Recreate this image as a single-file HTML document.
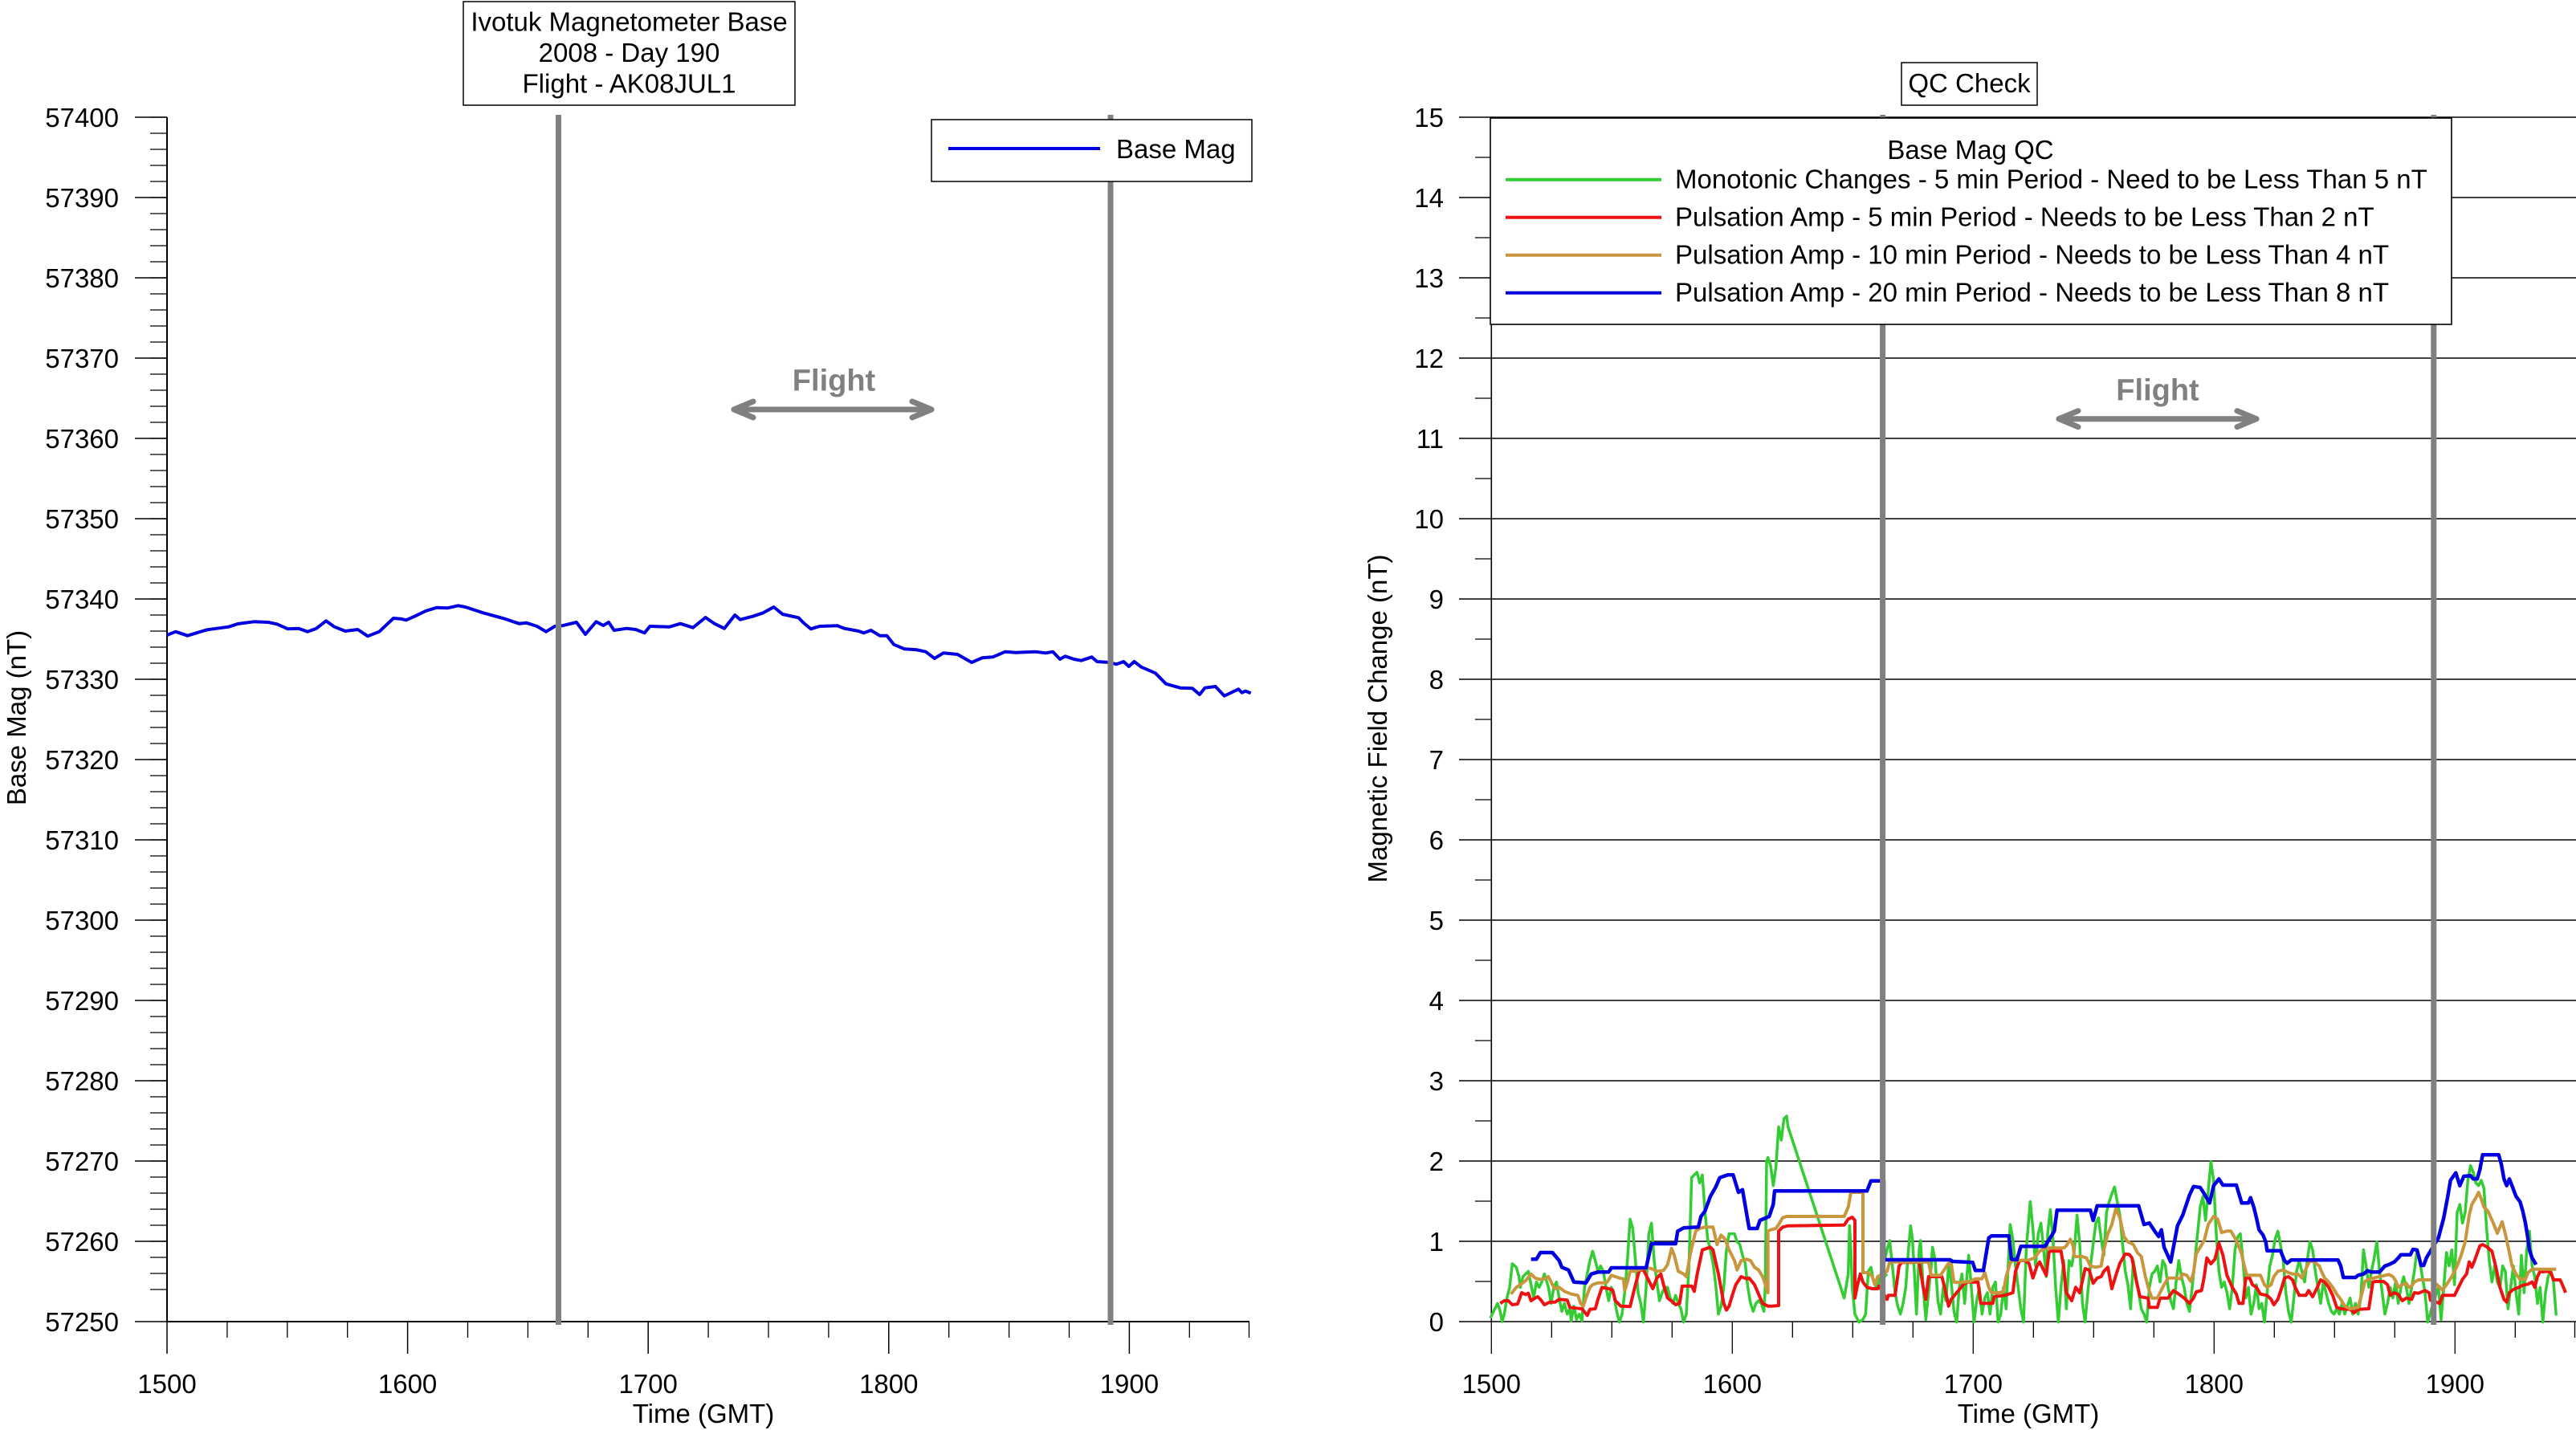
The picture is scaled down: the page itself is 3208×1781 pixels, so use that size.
<!DOCTYPE html>
<html>
<head>
<meta charset="utf-8">
<style>
html,body{margin:0;padding:0;background:#fff;overflow:hidden;}
svg{display:block;}
text{font-family:"Liberation Sans",Arial,sans-serif;}
</style>
</head>
<body>
<svg xmlns="http://www.w3.org/2000/svg" width="3208" height="1781" viewBox="0 0 3208 1781" font-size="33">
<rect width="3208" height="1781" fill="#fff"/>

<!-- ================= LEFT CHART ================= -->
<path d="M208 146V1646H1556" stroke="#000" stroke-width="2" fill="none"/>
<path d="M168 146h40M168 246h40M168 346h40M168 446h40M168 546h40M168 646h40M168 746h40M168 846h40M168 946h40M168 1046h40M168 1146h40M168 1246h40M168 1346h40M168 1446h40M168 1546h40M168 1646h40" stroke="#000" stroke-width="1.5"/>
<path d="M187 146h21m-21 20h21m-21 20h21m-21 20h21m-21 20h21m-21 20h21m-21 20h21m-21 20h21m-21 20h21m-21 20h21m-21 20h21m-21 20h21m-21 20h21m-21 20h21m-21 20h21m-21 20h21m-21 20h21m-21 20h21m-21 20h21m-21 20h21m-21 20h21m-21 20h21m-21 20h21m-21 20h21m-21 20h21m-21 20h21m-21 20h21m-21 20h21m-21 20h21m-21 20h21m-21 20h21m-21 20h21m-21 20h21m-21 20h21m-21 20h21m-21 20h21m-21 20h21m-21 20h21m-21 20h21m-21 20h21m-21 20h21m-21 20h21m-21 20h21m-21 20h21m-21 20h21m-21 20h21m-21 20h21m-21 20h21m-21 20h21m-21 20h21m-21 20h21m-21 20h21m-21 20h21m-21 20h21m-21 20h21m-21 20h21m-21 20h21m-21 20h21m-21 20h21m-21 20h21m-21 20h21m-21 20h21m-21 20h21m-21 20h21m-21 20h21m-21 20h21m-21 20h21m-21 20h21m-21 20h21m-21 20h21m-21 20h21m-21 20h21m-21 20h21m-21 20h21" stroke="#000" stroke-width="1.3"/>
<path d="M208 1646v40M507.6 1646v40M807.2 1646v40M1106.8 1646v40M1406.4 1646v40" stroke="#000" stroke-width="1.5"/>
<path d="M282.9 1646v20M357.8 1646v20M432.7 1646v20M582.5 1646v20M657.4 1646v20M732.3 1646v20M882.1 1646v20M957 1646v20M1031.9 1646v20M1181.7 1646v20M1256.6 1646v20M1331.5 1646v20M1481.3 1646v20M1555.5 1646v20" stroke="#000" stroke-width="1.3"/>

<g text-anchor="end">
<text x="148" y="158">57400</text>
<text x="148" y="258">57390</text>
<text x="148" y="358">57380</text>
<text x="148" y="458">57370</text>
<text x="148" y="558">57360</text>
<text x="148" y="658">57350</text>
<text x="148" y="758">57340</text>
<text x="148" y="858">57330</text>
<text x="148" y="958">57320</text>
<text x="148" y="1058">57310</text>
<text x="148" y="1158">57300</text>
<text x="148" y="1258">57290</text>
<text x="148" y="1358">57280</text>
<text x="148" y="1458">57270</text>
<text x="148" y="1558">57260</text>
<text x="148" y="1658">57250</text>
</g>
<g text-anchor="middle">
<text x="208" y="1735">1500</text>
<text x="507.6" y="1735">1600</text>
<text x="807.2" y="1735">1700</text>
<text x="1106.8" y="1735">1800</text>
<text x="1406.4" y="1735">1900</text>
<text x="876" y="1772">Time (GMT)</text>
<text transform="translate(32,894) rotate(-90)">Base Mag (nT)</text>
</g>

<polyline fill="none" stroke="#0000e0" stroke-width="4" stroke-linejoin="round" points="208,791 218.8,786.7 233.5,791.7 244.6,788.3 258,784.3 284.8,780.7 296,777 316,774.3 334,775 345,777.3 358.5,783.3 371.9,782.7 383,786.7 394,782.7 406,773.3 416.5,780.7 430,786 445.5,784 458,792.3 472.3,786.7 490,770 499,770.7 505.8,772.3 517,767.3 530,761 543.8,756.7 557,757.3 570.5,754.3 579.5,756 601.8,763.3 628.6,770.7 646.4,776.7 655.4,775.7 668.8,780 680,786.7 691,780 700,779.3 717.9,775 729,790 742.4,774.3 751.3,779 758,775 764.7,785 780.4,782.7 791.5,784 802.7,788.3 809.4,780 834,780.7 847.3,776.7 863,781.7 878.6,769 889.7,776.7 902,782.7 915.2,766 921.8,771.7 937.2,767.7 950.4,763.3 963.6,756 974.6,765 994.4,769.3 1001,776 1009.8,783.3 1020.8,780 1042.8,779.3 1051.6,782.7 1069.2,786 1075.8,788.3 1084.6,785 1095.6,791.7 1104.4,791.7 1113.2,802.7 1126.4,808.3 1141.8,809.3 1152.8,811.7 1163.8,820 1174.8,813.3 1192.4,815 1210,825 1223.2,819.3 1236.4,818.3 1251.8,811.7 1265,812.7 1289.2,811.7 1302.4,813.3 1311.2,811.7 1320,821 1326.6,817.3 1337.6,821 1346.4,822.7 1359.6,818.3 1366.2,824 1381.6,825 1390.4,827.3 1399.3,824 1405.8,830 1412.5,824 1421.2,830.7 1438.8,838.3 1452,851.7 1469.6,856.7 1485,857.3 1493.9,865 1500.5,856.7 1513.7,855 1524.7,866.7 1542.3,858.3 1546.7,862.7 1551,860.7 1557.7,863.3"/>

<path d="M695.5 143V1650M1383 143V1650" stroke="#808080" stroke-width="7"/>

<!-- Flight label left -->
<text x="1038.5" y="486.5" text-anchor="middle" font-weight="bold" font-size="38" fill="#808080">Flight</text>
<g stroke="#808080" stroke-width="7" fill="none" stroke-linecap="round" stroke-linejoin="round">
<path d="M914 510H1160"/>
<polyline points="938,500 914,510 938,520"/>
<polyline points="1136,500 1160,510 1136,520"/>
</g>

<!-- title box -->
<rect x="577" y="2" width="413" height="129" fill="#fff" stroke="#000" stroke-width="1.5"/>
<g text-anchor="middle">
<text x="783.5" y="38.5">Ivotuk Magnetometer Base</text>
<text x="783.5" y="77">2008 - Day 190</text>
<text x="783.5" y="115.5">Flight - AK08JUL1</text>
</g>

<!-- left legend -->
<rect x="1160" y="149" width="399" height="77" fill="#fff" stroke="#000" stroke-width="1.5"/>
<path d="M1181 185H1370" stroke="#0000e0" stroke-width="4"/>
<text x="1390" y="197">Base Mag</text>

<!-- ================= RIGHT CHART ================= -->
<path d="M1817 146H3208M1817 246H3208M1817 346H3208M1817 446H3208M1817 546H3208M1817 646H3208M1817 746H3208M1817 846H3208M1817 946H3208M1817 1046H3208M1817 1146H3208M1817 1246H3208M1817 1346H3208M1817 1446H3208M1817 1546H3208M1817 1646H3208" stroke="#000" stroke-width="1.6"/>
<path d="M1857.3 146V1646" stroke="#000" stroke-width="1.6"/>
<path d="M1837 196h20M1837 296h20M1837 396h20M1837 496h20M1837 596h20M1837 696h20M1837 796h20M1837 896h20M1837 996h20M1837 1096h20M1837 1196h20M1837 1296h20M1837 1396h20M1837 1496h20M1837 1596h20" stroke="#000" stroke-width="1.3"/>
<path d="M1857.3 1646v40M2157.3 1646v40M2457.3 1646v40M2757.3 1646v40M3057.3 1646v40" stroke="#000" stroke-width="1.3"/>
<path d="M1932.3 1646v20M2007.3 1646v20M2082.3 1646v20M2232.3 1646v20M2307.3 1646v20M2382.3 1646v20M2532.3 1646v20M2607.3 1646v20M2682.3 1646v20M2832.3 1646v20M2907.3 1646v20M2982.3 1646v20M3132.3 1646v20M3206.5 1646v20" stroke="#000" stroke-width="1.3"/>

<g text-anchor="end">
<text x="1798" y="158">15</text>
<text x="1798" y="258">14</text>
<text x="1798" y="358">13</text>
<text x="1798" y="458">12</text>
<text x="1798" y="558">11</text>
<text x="1798" y="658">10</text>
<text x="1798" y="758">9</text>
<text x="1798" y="858">8</text>
<text x="1798" y="958">7</text>
<text x="1798" y="1058">6</text>
<text x="1798" y="1158">5</text>
<text x="1798" y="1258">4</text>
<text x="1798" y="1358">3</text>
<text x="1798" y="1458">2</text>
<text x="1798" y="1558">1</text>
<text x="1798" y="1658">0</text>
</g>
<g text-anchor="middle">
<text x="1857.3" y="1735">1500</text>
<text x="2157.3" y="1735">1600</text>
<text x="2457.3" y="1735">1700</text>
<text x="2757.3" y="1735">1800</text>
<text x="3057.3" y="1735">1900</text>
<text x="2526" y="1772">Time (GMT)</text>
<text transform="translate(1727,895) rotate(-90)">Magnetic Field Change (nT)</text>
</g>

<!-- Flight label right -->
<text x="2687" y="498.3" text-anchor="middle" font-weight="bold" font-size="38" fill="#808080">Flight</text>
<g stroke="#808080" stroke-width="7" fill="none" stroke-linecap="round" stroke-linejoin="round">
<path d="M2564 521.7H2810"/>
<polyline points="2588,511.7 2564,521.7 2588,531.7"/>
<polyline points="2786,511.7 2810,521.7 2786,531.7"/>
</g>

<!-- green series (in zoom coordinates) -->
<g fill="none" stroke="#33cc33" stroke-width="10.5" stroke-linejoin="round">
<polyline transform="translate(1850,1370) scale(0.333333)" points="18,815 30,790 45,760 55,790 62,828 70,800 80,740 90,700 100,612 115,625 125,660 130,700 140,660 150,650 160,640 170,690 180,740 190,680 200,700 210,680 220,650 235,700 245,760 255,700 265,680 275,740 285,790 295,760 305,800 315,780 320,825 330,770 340,820 350,800 360,825 370,700 380,650 390,600 400,565 410,600 420,640 430,620 440,640 450,700 460,750 470,700 480,730 490,790 500,830 510,800 520,720 530,600 540,445 550,480 560,600 570,720 580,760 590,830 600,700 610,500 620,460 630,600 640,680 650,750 660,720 670,700 680,700 690,740 700,760 710,730 720,760 730,780 740,830 750,800 760,620 770,290 790,270 800,310 810,280 820,420 830,520 840,560 850,610 860,690 870,800 880,770 890,700 900,560 910,500 920,500 930,500 940,530 950,540 960,580 970,610 980,700 990,760 1000,790 1010,760 1020,750 1030,760 1040,790 1045,700 1050,230 1055,215 1065,245 1075,320 1085,250 1095,100 1105,150 1115,70 1125,60 1130,100 1340,740 1355,650 1360,470 1365,560 1370,700 1380,800 1395,830 1410,820 1420,800 1430,640 1440,625 1450,680 1460,700 1470,680 1500,650"/>
<polyline transform="translate(2340,1370) scale(0.333333)" points="0,680 30,560 40,525 50,620 60,720 70,770 80,800 90,760 100,700 110,560 118,470 125,520 132,640 140,800 150,560 155,525 165,700 175,820 185,720 195,620 200,550 210,600 220,750 230,800 240,700 250,750 260,620 270,680 280,790 290,830 300,700 310,650 320,760 330,640 335,580 345,700 355,830 365,750 375,700 385,800 395,740 405,720 415,800 425,700 435,680 445,830 455,800 465,700 475,780 490,465 500,520 510,620 520,700 530,780 540,830 550,560 560,440 565,380 575,480 585,620 595,500 605,460 615,560 625,660 630,500 640,410 650,520 660,700 670,830 680,700 690,600 700,780 710,600 720,620 730,560 740,430 750,540 760,760 770,830 780,720 790,620 800,540 810,460 820,440 830,520 840,580 850,420 860,380 870,350 880,325 890,380 900,430 910,540 920,640 930,690 940,780 950,600 960,660 970,720 980,780 990,800 1000,830 1010,700 1020,650 1030,640 1040,620 1050,680 1060,600 1070,620 1080,700 1090,750 1100,780 1110,680 1120,600 1130,660 1140,700 1150,760 1160,790 1170,700 1180,600 1190,500 1200,400 1210,360 1220,450 1230,340 1240,230 1250,300 1260,500 1270,640 1280,700 1290,680 1300,720 1310,780 1320,700 1330,560 1340,510"/>
<polyline transform="translate(2790,1370) scale(0.333333)" points="-10,510 0,500 10,600 20,740 30,700 40,800 50,760 60,690 70,780 80,760 90,830 100,720 110,620 120,580 130,520 140,490 150,540 160,600 170,720 180,790 190,830 200,740 210,640 220,600 230,640 240,680 250,600 260,530 270,560 280,640 290,700 300,760 310,680 320,720 330,760 340,790 350,800 360,780 370,800 380,760 390,800 400,770 410,740 420,800 430,760 440,800 450,740 460,560 470,620 480,700 490,640 500,590 510,530 520,640 530,720 540,800 550,760 560,700 570,740 580,680 590,760 600,700 610,660 620,700 630,760 640,700 650,640 660,560 670,600 680,660 690,720 700,830 720,760 740,700 750,820 760,700 770,570 780,620 790,560 800,690 810,420 820,390 830,460 840,420 850,300 860,245 870,270 880,310 890,320 900,300 910,330 920,480 930,600 940,680 950,620 960,680 970,700 980,620 990,640 1000,780 1010,700 1020,620 1030,720 1040,800 1050,580 1060,720 1070,560 1080,490 1090,620 1100,660 1110,760 1120,700 1130,830 1140,720 1150,660 1160,640 1170,680 1180,805"/>
</g>

<!-- red series -->
<polyline fill="none" stroke="#ee1111" stroke-width="4" stroke-linejoin="round" points="1868.3,1623.3 1873.3,1620 1878.3,1620 1883.3,1625 1890,1624 1895,1610 1900,1612.3 1903.3,1610.7 1906.7,1620 1911.7,1616.7 1915,1615 1918.3,1618.3 1923.3,1625 1930,1621.7 1936.7,1621.7 1941.7,1618.3 1951.7,1619.3 1955,1628.3 1963.3,1629.3 1970,1630 1976.7,1638.3 1980,1630.7 1986.7,1630 1990,1618.3 1995,1603.3 2003.3,1605 2008.3,1606.7 2011.7,1620 2015,1623.3 2018.3,1626.7 2030,1627.3 2036.7,1600 2041.7,1581.7 2046.7,1581.7 2051.7,1591.7 2058.3,1605 2063.3,1591.7 2068.3,1586.7 2071.7,1600 2076.7,1616.7 2083.3,1621.7 2086.7,1625 2091.7,1623.3 2095,1601.7 2106.7,1601.7 2110,1608.3 2113.3,1588.3 2120,1556.7 2130,1553.3 2133.3,1556.7 2140,1586.7 2146.7,1623.3 2150,1631.7 2153.3,1626.7 2158.3,1610 2161.7,1600 2168.3,1590 2175,1592.7 2178.3,1591.7 2185,1600 2190,1611.7 2195,1623.3 2201.7,1626.7 2206.7,1626.7 2215,1626 2215,1533.3 2220,1528.3 2226.7,1526.7 2296.7,1525.7 2301.7,1518.3 2306.7,1516 2310,1520 2310,1616.7 2313.3,1600 2316.7,1586.7 2320,1596.7 2325,1603.3 2331.7,1605 2338.3,1605 2340,1601.7 2350,1618.3 2351.7,1613.3 2360,1613.3 2365,1576.7 2368.3,1572.3 2378.3,1572.3 2390,1571.7 2395,1603.3 2398.3,1618.3 2401.7,1590 2406.7,1590 2418.3,1590 2421.7,1603.3 2426.7,1626.7 2430,1618.3 2436.7,1610 2445,1600 2450,1596.7 2463.3,1596.7 2466.7,1623.3 2481.7,1623.3 2483.3,1615 2496.7,1613.3 2506.7,1610 2510,1583.3 2515,1570 2521.7,1570 2526.7,1573.3 2531.7,1591.7 2536.7,1576.7 2540,1571.7 2543.3,1578.3 2548.3,1588.3 2551.7,1560 2553.3,1558.3 2566.7,1558.3 2570,1578.3 2573.3,1610 2580,1620 2585,1603.3 2590,1610 2596.7,1580 2601.7,1581.7 2606.7,1598.3 2611.7,1591.7 2616.7,1590 2620,1583.3 2625,1578.3 2630,1605 2635,1588.3 2640,1573.3 2646.7,1561.7 2651.7,1562.3 2655,1566.7 2660,1593.3 2665,1615 2675,1616.7 2676.7,1628.3 2686.7,1628.3 2690,1616.7 2700,1616.7 2706.7,1607.3 2713.3,1611.7 2720,1616.7 2726.7,1623.3 2731.7,1616.7 2735,1609 2741.7,1607.3 2745,1590 2748.3,1566.7 2753.3,1574 2758.3,1568.3 2763.3,1548.3 2768.3,1563.3 2773.3,1588.3 2780,1603.3 2785,1611.7 2788.3,1623.3 2793.3,1623.3 2796.7,1591.7 2801.7,1591.7 2805,1600 2810,1603.3 2815,1611.7 2823.3,1613.3 2828.3,1618.3 2831.7,1625 2836.7,1618.3 2841.7,1603.3 2845,1591.7 2850,1590 2855,1594 2858.3,1603.3 2863.3,1613.3 2871.7,1613.3 2875,1607.3 2880,1615 2885,1605 2890,1594 2895,1596.7 2900,1603.3 2905,1613.3 2910,1628.3 2915,1630 2926.7,1630.7 2931.7,1635 2936.7,1630.7 2950,1630 2955,1596.7 2958.3,1596 2968.3,1596 2973.3,1600 2976.7,1613.3 2981.7,1610 2986.7,1612.3 2991.7,1620 2996.7,1616.7 3003.3,1618.3 3006.7,1610 3011.7,1610.7 3020,1607.3 3025,1610 3026.7,1619.3 3038.3,1623.3 3041.7,1613.3 3056.7,1613.3 3061.7,1603.3 3066.7,1593.3 3071.7,1586.7 3075,1571.7 3078.3,1578.3 3081.7,1570 3088.3,1551.7 3091.7,1550 3096.7,1552.7 3103.3,1558.3 3108.3,1578.3 3113.3,1603.3 3118.3,1618.3 3121.7,1621.7 3125,1610 3130,1606 3136.7,1603.3 3141.7,1600.7 3148.3,1599.3 3153.3,1596.7 3156.7,1603.3 3160,1590 3163.3,1583.3 3166.7,1584 3171.7,1583.3 3176.7,1585 3180,1594 3188.3,1594 3191.7,1601.7 3195,1610"/>

<!-- tan series -->
<polyline fill="none" stroke="#c8963c" stroke-width="4" stroke-linejoin="round" points="1881.7,1611.7 1888.3,1603.3 1893.3,1600 1900,1595 1906.7,1586.7 1911.7,1591.7 1916.7,1593.3 1921.7,1593.3 1928.3,1590 1933.3,1600 1936.7,1605 1941.7,1603.3 1948.3,1608.3 1956.7,1611.7 1965,1613.3 1968.3,1623.3 1971.7,1626.7 1975,1616.7 1980,1603.3 1983.3,1600 1990,1597.7 1996.7,1597.7 2001.7,1596.7 2006.7,1588.3 2011.7,1590 2016.7,1591.7 2021.7,1592.7 2023.3,1607.3 2026.7,1596.7 2030,1583.3 2035,1583.3 2050,1579 2056.7,1580 2063.3,1583.3 2071.7,1582.3 2076.7,1575 2081.7,1555 2085,1563.3 2090,1583.3 2096.7,1586.7 2100,1590 2105,1561.7 2111.7,1533.3 2116.7,1530 2123.3,1528.3 2133.3,1528.3 2138.3,1550 2143.3,1538.3 2148.3,1543.3 2153.3,1556.7 2160,1570 2163.3,1581.7 2168.3,1570 2175,1568.3 2180,1570 2185,1578.3 2190,1581.7 2195,1590 2200,1603.3 2201.7,1610 2201.7,1533.3 2205,1531.7 2211.7,1530 2215,1525 2220,1516.7 2225,1515 2296.7,1515 2301.7,1503.3 2305,1485 2320,1485 2320,1585 2326.7,1585 2331.7,1590 2335,1600 2338.3,1590 2341.7,1588.3 2350,1583.3 2353.3,1571.7 2378.3,1571.7 2401.7,1571.7 2405,1588.3 2416.7,1588.3 2420,1583.3 2426.7,1573.3 2430,1574 2433.3,1596.7 2440,1597.3 2453.3,1596 2460,1592.7 2468.3,1592.7 2471.7,1585 2476.7,1603.3 2480,1610 2490,1610 2495,1608.3 2498.3,1590 2503.3,1573.3 2506.7,1570 2526.7,1569.3 2533.3,1566.7 2540,1558.3 2546.7,1555 2553.3,1554.3 2570,1554.3 2573.3,1551.7 2578.3,1543.3 2581.7,1551.7 2583.3,1565 2593.3,1565 2598.3,1566.7 2603.3,1576.7 2610,1578.3 2616.7,1576.7 2620,1556.7 2625,1536.7 2630,1525 2635,1505 2640,1516.7 2645,1540 2650,1546.7 2656.7,1550 2661.7,1560 2666.7,1565 2671.7,1590 2676.7,1608.3 2680,1616.7 2686.7,1616.7 2693.3,1603.3 2700,1591.7 2710,1591.7 2715,1592.7 2718.3,1586.7 2723.3,1588.3 2728.3,1596 2731.7,1585 2735,1561.7 2740,1553.3 2745,1545 2750,1525 2756.7,1515 2761.7,1518.3 2766.7,1535 2773.3,1533.3 2778.3,1533.3 2785,1545 2791.7,1561.7 2793.3,1570 2796.7,1583.3 2798.3,1588.3 2815,1588.3 2820,1600 2823.3,1603.3 2828.3,1600 2831.7,1590 2836.7,1583.3 2843.3,1581.7 2850,1585 2855,1586.7 2861.7,1586.7 2866.7,1591.7 2871.7,1580 2876.7,1570 2881.7,1571.7 2888.3,1576.7 2891.7,1585 2895,1591.7 2900,1596.7 2905,1603.3 2910,1611.7 2915,1618.3 2920,1626.7 2926.7,1630 2936.7,1628.3 2941.7,1610 2945,1596 2950,1593.3 2960,1590.7 2966.7,1589.3 2975,1587.3 2980,1590 2983.3,1595 2986.7,1603.3 2991.7,1600 2996.7,1598.3 3000,1603.3 3003.3,1601.7 3006.7,1596.7 3011.7,1594 3028.3,1594 3038.3,1603.3 3041.7,1606.7 3046.7,1600 3053.3,1590 3060,1576.7 3065,1563.3 3070,1546.7 3075,1513.3 3078.3,1500 3083.3,1491.7 3086.7,1485 3090,1493.3 3093.3,1503.3 3098.3,1508.3 3105,1523.3 3110,1536 3116,1521.7 3120,1536.7 3125,1560 3128.3,1576.7 3133.3,1586.7 3138.3,1593.3 3145,1593.3 3148.3,1585 3153.3,1580.7 3166.7,1580.7 3183.3,1580.7"/>

<!-- blue series -->
<polyline fill="none" stroke="#0000e0" stroke-width="4.5" stroke-linejoin="round" points="1906.7,1568.3 1913.3,1568.3 1918.3,1560 1933.3,1560 1941.7,1570 1945,1578.3 1953.3,1581.7 1960,1596.7 1975,1597.7 1981.7,1586.7 1990,1584.3 2003.3,1584.3 2006.7,1579 2050,1579 2056.7,1549 2086.7,1549 2089.3,1533.3 2096.7,1529.3 2115,1528.3 2118.3,1515 2123.3,1508.3 2130,1490 2136.7,1478.3 2141.7,1466.7 2151.7,1463.3 2158.3,1463.3 2165,1485 2170,1481.7 2178.3,1530 2188.3,1530 2191.7,1520 2203.3,1515 2208.3,1500 2210,1483.3 2325,1483.3 2330,1470.7 2346,1470.7 2346,1569 2428.3,1569 2431.7,1571 2456.7,1572.3 2460,1582.3 2470,1582.3 2476.7,1541.7 2480,1539.3 2501.7,1539.3 2505,1568.3 2511.7,1569 2516.7,1552.3 2546.7,1552.3 2558.3,1533.3 2561.7,1507.3 2603.3,1507.3 2606.7,1520 2611.7,1501.7 2663.3,1501.7 2670,1525 2676.7,1523.3 2683.3,1533.3 2688.3,1540 2691.7,1531.7 2695,1553.3 2703.3,1571.7 2706.7,1553.3 2711.7,1526.7 2718.3,1513.3 2726.7,1488.3 2731.7,1477.7 2740,1479 2745,1486.7 2751.7,1498.3 2756.7,1476.7 2763.3,1468.3 2768.3,1476 2785,1476 2791.7,1498.3 2800,1498.3 2802.7,1491.7 2806.7,1503.3 2810,1516.7 2813.3,1531.7 2818.3,1538.3 2821.7,1546.7 2823.3,1557.7 2840,1557.7 2845,1570 2848.3,1573.3 2853.3,1569.3 2911.7,1569.3 2915,1576.7 2918.3,1591 2933.3,1591 2936.7,1588.3 2943.3,1586.7 2948.3,1582.7 2953.3,1584.3 2963.3,1584.3 2970,1576.7 2975,1575 2981.7,1571.7 2986.7,1566.7 2990,1562.7 3001.7,1562.7 3005,1556 3010,1556.7 3012.7,1566.7 3015,1576 3018.3,1576 3021.7,1566.7 3026.7,1558.3 3036.7,1541.7 3043.3,1516.7 3048.3,1490 3051.7,1470 3058.3,1460.7 3063.3,1476.7 3068.3,1465 3076.7,1464.3 3080,1468.3 3085,1468.3 3088.3,1456.7 3091.7,1438.3 3111.7,1438.3 3115,1450 3118.3,1468.3 3121.7,1476.7 3125,1468.3 3128.3,1476.7 3133.3,1490 3138.3,1496.7 3141.7,1508.3 3145,1523.3 3148.3,1543.3 3150,1556.7 3153.3,1566.7 3158.3,1575"/>

<path d="M2344.6 143V1650M3030.8 143V1650" stroke="#808080" stroke-width="7"/>

<!-- right legend -->
<rect x="1856" y="147" width="1197" height="257" fill="#fff" stroke="#000" stroke-width="1.6"/>
<text x="2454" y="198" text-anchor="middle">Base Mag QC</text>
<path d="M1875 223.7H2069" stroke="#33cc33" stroke-width="4"/>
<path d="M1875 270.7H2069" stroke="#ee1111" stroke-width="4"/>
<path d="M1875 317.7H2069" stroke="#c8963c" stroke-width="4"/>
<path d="M1875 364.7H2069" stroke="#0000e0" stroke-width="4"/>
<text x="2086" y="234.5">Monotonic Changes - 5 min Period - Need to be Less Than 5 nT</text>
<text x="2086" y="281.5">Pulsation Amp - 5 min Period - Needs to be Less Than 2 nT</text>
<text x="2086" y="328.5">Pulsation Amp - 10 min Period - Needs to be Less Than 4 nT</text>
<text x="2086" y="375.5">Pulsation Amp - 20 min Period - Needs to be Less Than 8 nT</text>

<!-- QC Check box -->
<rect x="2368" y="78" width="169" height="53" fill="#fff" stroke="#000" stroke-width="1.5"/>
<text x="2452.5" y="115" text-anchor="middle">QC Check</text>
</svg>
</body>
</html>
